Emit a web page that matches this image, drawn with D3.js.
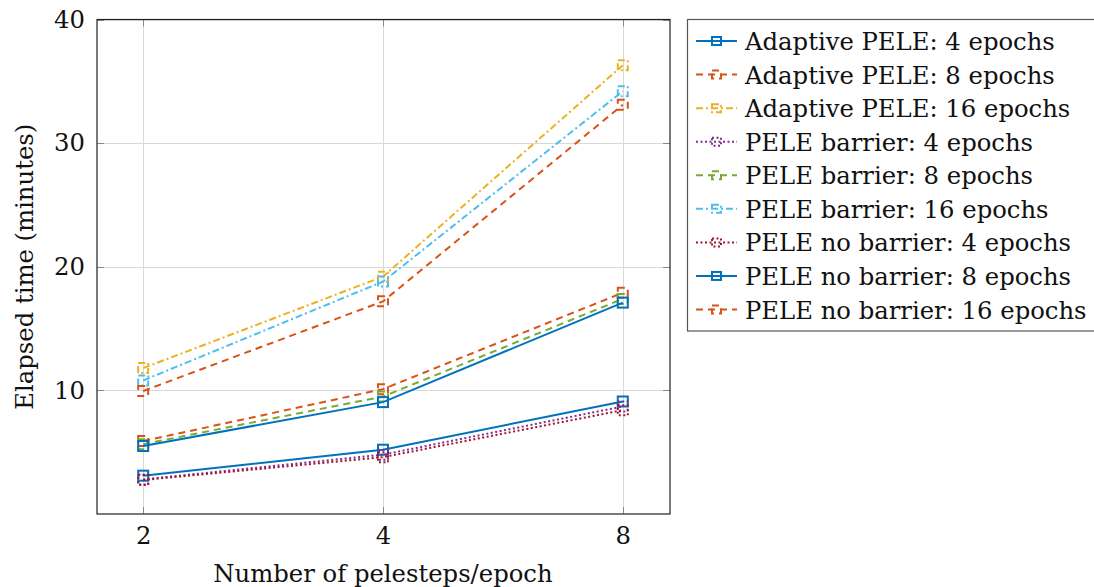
<!DOCTYPE html>
<html>
<head>
<meta charset="utf-8">
<script src="https://cdn.jsdelivr.net/npm/d3@7"></script>
<style>
  body { margin: 0; background: #fff; }
  svg text { font-family: "DejaVu Serif", "Liberation Serif", serif; fill: #111; }
</style>
</head>
<body>
<svg id="my_svg"></svg>
<script>
document.addEventListener('DOMContentLoaded', (event) => {
    const width = 1094;
    const height = 587;
    const fontSize = 24.3;

    // pelesteps per epoch
    const steps = [2, 4, 8];
    const yTicks = [10, 20, 30, 40];

    const seriesNames = [
        "Adaptive PELE: 4 epochs",
        "Adaptive PELE: 8 epochs",
        "Adaptive PELE: 16 epochs",
        "PELE barrier: 4 epochs",
        "PELE barrier: 8 epochs",
        "PELE barrier: 16 epochs",
        "PELE no barrier: 4 epochs",
        "PELE no barrier: 8 epochs",
        "PELE no barrier: 16 epochs"
    ];

    // elapsed time (minutes)
    const adaptive4 = [3.1, 5.2, 9.1];
    const adaptive8 = [5.9, 10.1, 17.9];
    const adaptive16 = [11.8, 19.2, 36.3];
    const barrier4 = [2.8, 4.8, 8.7];
    const barrier8 = [5.65, 9.5, 17.4];
    const barrier16 = [10.8, 18.8, 34.2];
    const noBarrier4 = [2.75, 4.6, 8.4];
    const noBarrier8 = [5.5, 9.05, 17.1];
    const noBarrier16 = [9.95, 17.2, 33.1];

    const seriesValues = [adaptive4, adaptive8, adaptive16, barrier4, barrier8,
        barrier16, noBarrier4, noBarrier8, noBarrier16];

    const colors = ["#0072BD", "#D95319", "#EDB120", "#7E2F8E", "#77AC30",
        "#4DBEEE", "#A2142F", "#0072BD", "#D95319"];
    const dashes = {
        solid: null,
        dashed: "7,5",
        dashdot: "7,3,2,3",
        dotted: "2,2.5"
    };
    const styles = ["solid", "dashed", "dashdot", "dotted", "dashed",
        "dashdot", "dotted", "solid", "dashed"];

    const margin = { left: 97, top: 19.5, right: 670, bottom: 514 };

    const svg = d3.select('#my_svg')
        .attr('width', width)
        .attr('height', height);

    svg.append('rect')
        .attr('width', width)
        .attr('height', height)
        .attr('fill', '#fff');

    const x = d3.scaleLog().domain([1.75, 9.17]).range([margin.left, margin.right]);
    const y = d3.scaleLinear().domain([0, 40]).range([margin.bottom, margin.top]);

    // grid
    const grid = svg.append('g').attr('stroke', '#d9d9d9').attr('stroke-width', 1);
    steps.forEach(s => {
        grid.append('line')
            .attr('x1', Math.round(x(s)) + 0.5).attr('x2', Math.round(x(s)) + 0.5)
            .attr('y1', margin.top).attr('y2', margin.bottom);
    });
    yTicks.forEach(v => {
        grid.append('line')
            .attr('x1', margin.left).attr('x2', margin.right)
            .attr('y1', Math.round(y(v)) + 0.5).attr('y2', Math.round(y(v)) + 0.5);
    });

    // inward ticks on all four sides
    const ticks = svg.append('g').attr('stroke', '#888').attr('stroke-width', 1);
    steps.forEach(s => {
        const px = Math.round(x(s)) + 0.5;
        ticks.append('line').attr('x1', px).attr('x2', px)
            .attr('y1', margin.bottom).attr('y2', margin.bottom - 7);
        ticks.append('line').attr('x1', px).attr('x2', px)
            .attr('y1', margin.top).attr('y2', margin.top + 7);
    });
    yTicks.forEach(v => {
        const py = Math.round(y(v)) + 0.5;
        ticks.append('line').attr('x1', margin.left).attr('x2', margin.left + 7)
            .attr('y1', py).attr('y2', py);
        ticks.append('line').attr('x1', margin.right).attr('x2', margin.right - 7)
            .attr('y1', py).attr('y2', py);
    });

    // axis labels
    const xAxis = d3.axisBottom(x).tickValues(steps).tickFormat(d3.format('d'))
        .tickSize(0).tickPadding(13);
    svg.append('g')
        .attr('transform', `translate(0,${margin.bottom})`)
        .call(xAxis)
        .call(g => g.select('.domain').remove())
        .selectAll('text')
        .attr('font-size', fontSize)
        .attr('font-family', '"DejaVu Serif", serif')
        .attr('fill', '#111');

    const yAxis = d3.axisLeft(y).tickValues(yTicks).tickSize(0).tickPadding(12);
    svg.append('g')
        .attr('transform', `translate(${margin.left},0)`)
        .call(yAxis)
        .call(g => g.select('.domain').remove())
        .selectAll('text')
        .attr('font-size', fontSize)
        .attr('font-family', '"DejaVu Serif", serif')
        .attr('fill', '#111');

    // plot box
    svg.append('rect')
        .attr('x', margin.left).attr('y', margin.top)
        .attr('width', margin.right - margin.left)
        .attr('height', margin.bottom - margin.top)
        .attr('fill', 'none')
        .attr('stroke', '#222')
        .attr('stroke-width', 1.2);

    // lines and markers
    const line = d3.line().x(d => x(d[0])).y(d => y(d[1]));
    const markerSize = 10;

    seriesValues.forEach((vals, i) => {
        const pts = steps.map((s, j) => [s, vals[j]]);
        const g = svg.append('g');
        g.append('path')
            .attr('d', line(pts))
            .attr('fill', 'none')
            .attr('stroke', colors[i])
            .attr('stroke-width', 2)
            .attr('stroke-dasharray', dashes[styles[i]]);
        g.selectAll('rect')
            .data(pts).join('rect')
            .attr('x', d => x(d[0]) - markerSize / 2)
            .attr('y', d => y(d[1]) - markerSize / 2)
            .attr('width', markerSize)
            .attr('height', markerSize)
            .attr('fill', 'none')
            .attr('stroke', colors[i])
            .attr('stroke-width', 2)
            .attr('stroke-dasharray', dashes[styles[i]]);
    });

    // axis titles
    svg.append('text')
        .attr('x', x(4))
        .attr('y', 582)
        .attr('text-anchor', 'middle')
        .attr('font-size', fontSize)
        .text('Number of pelesteps/epoch');

    svg.append('text')
        .attr('transform', `translate(33,${(margin.top + margin.bottom) / 2}) rotate(-90)`)
        .attr('text-anchor', 'middle')
        .attr('font-size', fontSize)
        .text('Elapsed time (minutes)');

    // legend
    const legend = svg.append('g');
    legend.append('rect')
        .attr('x', 687.5).attr('y', 19.5)
        .attr('width', 420).attr('height', 311.5)
        .attr('fill', '#fff')
        .attr('stroke', '#555')
        .attr('stroke-width', 1.2);

    const rowY = d3.scaleLinear().domain([0, 8]).range([41, 309.5]);
    seriesNames.forEach((name, i) => {
        const cy = rowY(i);
        legend.append('line')
            .attr('x1', 696).attr('x2', 737)
            .attr('y1', cy).attr('y2', cy)
            .attr('stroke', colors[i])
            .attr('stroke-width', 2)
            .attr('stroke-dasharray', dashes[styles[i]]);
        legend.append('rect')
            .attr('x', 716.5 - 4.5).attr('y', cy - 4)
            .attr('width', 9).attr('height', 8)
            .attr('fill', 'none')
            .attr('stroke', colors[i])
            .attr('stroke-width', 2)
            .attr('stroke-dasharray', dashes[styles[i]]);
        legend.append('text')
            .attr('x', 745)
            .attr('y', cy + 9)
            .attr('font-size', fontSize)
            .text(name);
    });
});
</script>
</body>
</html>
